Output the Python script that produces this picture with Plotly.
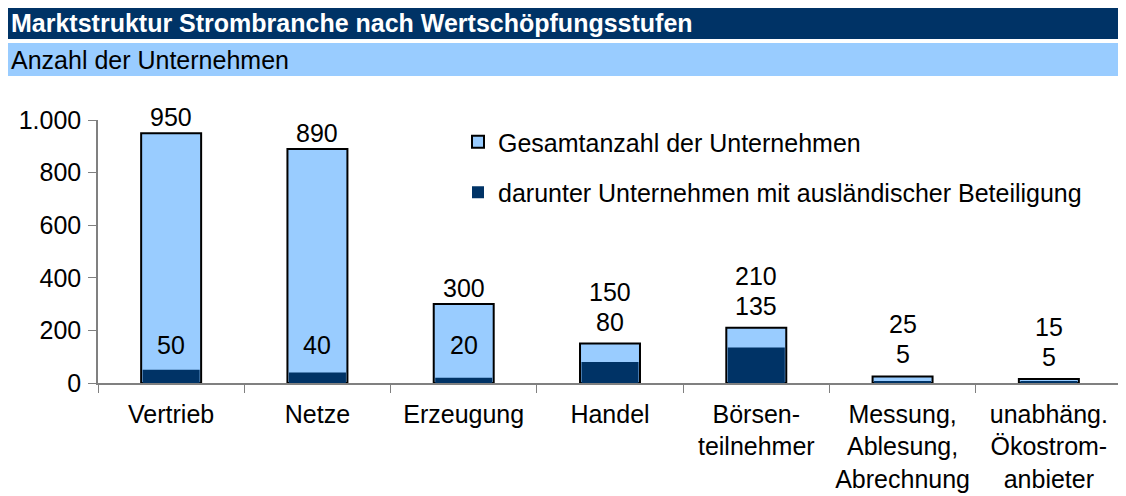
"""Marktstruktur Strombranche nach Wertschöpfungsstufen – Balkendiagramm."""

import plotly.graph_objects as go

# Daten
kategorien = [
    "Vertrieb",
    "Netze",
    "Erzeugung",
    "Handel",
    "Börsen-<br>teilnehmer",
    "Messung,<br>Ablesung,<br>Abrechnung",
    "unabhäng.<br>Ökostrom-<br>anbieter",
]
gesamt = [950, 890, 300, 150, 210, 25, 15]
auslaendisch = [50, 40, 20, 80, 135, 5, 5]
y_ticks = [0, 200, 400, 600, 800, 1000]

DUNKEL = "#003366"
HELL = "#99CCFF"
FONT = "Arial, Liberation Sans, sans-serif"

# Figur sitzt mit 8px Body-Rand im 1126x496-Fenster
W, H = 1118, 488
L, R, T, B = 90, 4, 112, 113
pw, ph = W - L - R, H - T - B


def px_x(x):
    return (x - L) / pw


def px_y(y):
    return (H - B - y) / ph


fig = go.Figure()

fig.add_trace(
    go.Bar(
        x=kategorien,
        y=gesamt,
        name="Gesamtanzahl der Unternehmen",
        legendgroup="a",
        marker=dict(color=HELL, line=dict(color="black", width=2)),
        width=0.41,
        hoverinfo="x+y",
    )
)
fig.add_trace(
    go.Bar(
        x=kategorien,
        y=auslaendisch,
        name="darunter Unternehmen mit ausländischer Beteiligung",
        legendgroup="b",
        marker=dict(color=DUNKEL, line=dict(width=0)),
        width=0.39,
        hoverinfo="x+y",
    )
)

# Datenbeschriftungen
for kat, g, a in zip(kategorien, gesamt, auslaendisch):
    if g >= 300:
        fig.add_annotation(x=kat, y=g, text=str(g), showarrow=False,
                           yanchor="middle", yshift=16)
        fig.add_annotation(x=kat, y=0, text=str(a), showarrow=False,
                           yanchor="middle", yshift=38)
    else:
        fig.add_annotation(x=kat, y=g, text=str(a), showarrow=False,
                           yanchor="middle", yshift=22)
        fig.add_annotation(x=kat, y=g, text=str(g), showarrow=False,
                           yanchor="middle", yshift=52)

# Titelbalken
fig.add_shape(type="rect", xref="paper", yref="paper",
              x0=px_x(0), x1=px_x(W), y0=px_y(31), y1=px_y(0),
              fillcolor=DUNKEL, line=dict(width=0), layer="below")
fig.add_shape(type="rect", xref="paper", yref="paper",
              x0=px_x(0), x1=px_x(W), y0=px_y(68), y1=px_y(35),
              fillcolor=HELL, line=dict(width=0), layer="below")
fig.add_annotation(xref="paper", yref="paper", x=px_x(1), y=px_y(15),
                   xanchor="left", yanchor="middle", showarrow=False,
                   text="<b>Marktstruktur Strombranche nach Wertschöpfungsstufen</b>",
                   font=dict(color="white", size=25))
fig.add_annotation(xref="paper", yref="paper", x=px_x(1), y=px_y(52),
                   xanchor="left", yanchor="middle", showarrow=False,
                   text="Anzahl der Unternehmen",
                   font=dict(color="black", size=25))

fig.update_layout(
    width=W,
    height=H,
    margin=dict(l=L, r=R, t=T, b=B, pad=0),
    barmode="overlay",
    separators=",.",
    paper_bgcolor="white",
    plot_bgcolor="white",
    font=dict(family=FONT, size=25, color="black"),
    showlegend=True,
    legend=dict(
        x=px_x(450),
        y=px_y(111),
        xanchor="left",
        yanchor="top",
        bgcolor="rgba(0,0,0,0)",
        tracegroupgap=15,
        traceorder="grouped",
        font=dict(size=25),
    ),
    xaxis=dict(
        showline=True,
        linecolor="#808080",
        linewidth=1.5,
        ticks="outside",
        tickson="boundaries",
        ticklen=8,
        tickcolor="#808080",
        ticklabelstandoff=8,
        automargin=False,
        showgrid=False,
        zeroline=False,
    ),
    yaxis=dict(
        range=[0, 1000],
        tickvals=y_ticks,
        tickformat=",",
        showline=True,
        linecolor="#808080",
        linewidth=1.5,
        ticks="outside",
        ticklen=8,
        tickcolor="#808080",
        ticklabelstandoff=2,
        automargin=False,
        showgrid=False,
        zeroline=False,
    ),
)

fig.write_html("out.html")
